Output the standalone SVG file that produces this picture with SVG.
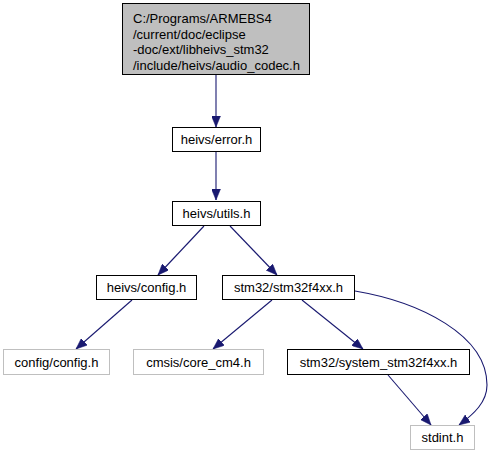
<svg xmlns="http://www.w3.org/2000/svg" width="493" height="456" viewBox="0 0 493 456">
<defs>
<style>
text{font-family:"Liberation Sans",Arial,sans-serif;font-size:13px;fill:#000}
.n{fill:#fff;stroke:#000;stroke-width:1}
.g{fill:#fff;stroke:#bfbfbf;stroke-width:1}
.top{fill:#bfbfbf;stroke:#000;stroke-width:1}
.e{fill:none;stroke:#191970;stroke-width:1.1}
</style>
<marker id="ah" viewBox="0 0 11 9" refX="11" refY="4.5" markerWidth="11" markerHeight="9" markerUnits="userSpaceOnUse" orient="auto">
<path d="M0,0 L11,4.5 L0,9 Z" fill="#191970" stroke="#191970" stroke-width="0.5"/>
</marker>
</defs>
<rect width="493" height="456" fill="#fff"/>
<g id="connectors">
<path class="e" d="M216,75 L216,127" marker-end="url(#ah)"/>
<path class="e" d="M216,151 L216,200" marker-end="url(#ah)"/>
<path class="e" d="M204,226 L158,275" marker-end="url(#ah)"/>
<path class="e" d="M230,226 L277,275" marker-end="url(#ah)"/>
<path class="e" d="M132,300 L76,349" marker-end="url(#ah)"/>
<path class="e" d="M272,300 L213,349" marker-end="url(#ah)"/>
<path class="e" d="M302,300 L363,349" marker-end="url(#ah)"/>
<path class="e" d="M388,375 L431,425" marker-end="url(#ah)"/>
<path class="e" d="M355,291 C420,302 487,335 487,385 C487,402 474,414 459,425" marker-end="url(#ah)"/>
</g>
<g id="audio_codec">
<rect class="top" x="122.5" y="3.5" width="187" height="71"/>
<text x="133" y="23">C:/Programs/ARMEBS4</text>
<text x="133" y="38.5">/current/doc/eclipse</text>
<text x="133" y="54">-doc/ext/libheivs_stm32</text>
<text x="133" y="69.5">/include/heivs/audio_codec.h</text>
</g>
<g id="error" text-anchor="middle">
<rect class="n" x="172.5" y="127.5" width="88" height="24"/>
<text x="216.5" y="144">heivs/error.h</text>
</g>
<g id="utils" text-anchor="middle">
<rect class="n" x="172.5" y="201.5" width="88" height="24"/>
<text x="216.5" y="218">heivs/utils.h</text>
</g>
<g id="config" text-anchor="middle">
<rect class="n" x="96.5" y="275.5" width="100" height="24"/>
<text x="146.5" y="292">heivs/config.h</text>
</g>
<g id="stm32f4xx" text-anchor="middle">
<rect class="n" x="222.5" y="275.5" width="132" height="24"/>
<text x="288.5" y="292">stm32/stm32f4xx.h</text>
</g>
<g id="config_config" text-anchor="middle">
<rect class="g" x="3.5" y="349.5" width="106" height="25"/>
<text x="56.5" y="366.5">config/config.h</text>
</g>
<g id="core_cm4" text-anchor="middle">
<rect class="g" x="133.5" y="349.5" width="130" height="25"/>
<text x="198.5" y="366.5">cmsis/core_cm4.h</text>
</g>
<g id="system_stm32f4xx" text-anchor="middle">
<rect class="n" x="287.5" y="349.5" width="182" height="25"/>
<text x="378.5" y="366.5">stm32/system_stm32f4xx.h</text>
</g>
<g id="stdint" text-anchor="middle">
<rect class="g" x="410.5" y="425.5" width="64" height="24"/>
<text x="442.5" y="442">stdint.h</text>
</g>
</svg>
